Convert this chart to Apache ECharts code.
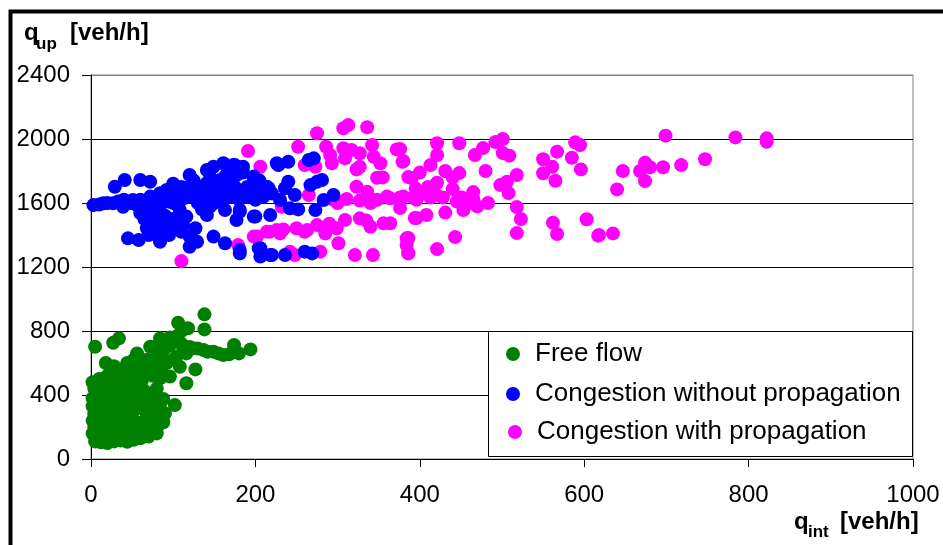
<!DOCTYPE html>
<html>
<head>
<meta charset="utf-8">
<script src="https://cdn.jsdelivr.net/npm/echarts@6/dist/echarts.min.js"></script>
</head>
<body style="margin:0;background:#fff">
<div id="main" style="width: 943px;height:545px;"></div>
<script type="text/javascript">
    // values: [q_int, q_up] in veh/h
    var freeFlow = [
        [138,904],[138,810],[106,852],[118,817],[5,702],[27,727],[34,754],[72,702],[84,754],[174,712],
        [194,685],[161,650],[149,671],[137,681],[124,692],[127,560],[104,765],[96,712],[88,681],[80,640],
        [72,608],[64,567],[56,660],[112,702],[116,660],[108,577],[96,515],[84,504],[116,473],[102,337],
        [100,740],[92,700],[110,720],[120,700],[130,690],[142,670],[155,660],[168,655],[180,660],[60,600],
        [68,620],[76,590],[50,560],[45,520],[40,480],[55,500],[65,540],[75,520],[85,560],[92,600],
        [100,620],[104,640],[88,620],[78,700],[96,760],[110,800],
        [5,110],[12,105],[20,100],[28,110],[36,115],[44,108],[52,120],[60,130],[70,140],[80,160],
        [8,130],[16,140],[24,125],[32,135],[40,140],[48,145],
        [2,160],[10,170],[18,180],[26,165],[34,175],[42,185],[50,170],[58,190],[66,180],[74,200],
        [82,210],[88,230],[4,200],[12,210],[20,220],[28,205],[36,230],[44,215],[52,240],[60,225],
        [68,245],[78,250],[2,240],[14,250],[24,260],
        [4,280],[10,300],[18,290],[26,310],[34,280],[42,300],[50,285],[58,320],[66,300],[74,330],
        [84,320],[90,285],[2,330],[12,340],[22,350],[30,330],[40,345],[48,360],[56,340],[64,370],
        [72,360],[80,350],[88,375],
        [2,380],[8,400],[16,390],[24,410],[32,380],[40,400],[48,420],[56,400],[64,430],[72,410],
        [80,440],[4,440],[14,460],[22,445],[30,470],[38,450],[46,480],[54,460],[62,490],[2,480],
        [10,500],[20,520],[30,540],[38,560],[28,580],[18,600],[44,600],[52,620]
    ];

    var congestionNoProp = [
        [3,1587],[15,1598],[27,1598],[39,1577],[51,1619],[29,1702],[41,1744],[60,1744],[72,1733],[60,1537],
        [45,1379],[58,1369],[68,1442],[84,1358],[80,1504],[72,1640],[84,1661],[92,1681],[96,1608],[104,1660],
        [108,1556],[120,1775],[120,1702],[116,1515],[127,1442],[112,1462],[120,1327],[129,1358],[141,1806],[149,1827],
        [161,1848],[173,1837],[185,1827],[129,1702],[141,1723],[157,1744],[169,1723],[198,1765],[214,1702],[133,1660],
        [149,1640],[165,1660],[185,1671],[206,1660],[141,1525],[163,1556],[177,1494],[181,1546],[198,1515],[218,1525],
        [149,1390],[163,1348],[181,1306],[206,1317],[206,1265],[220,1275],[226,1848],[230,1619],
        [175,1837],[163,1765],[177,1775],[198,1754],[206,1702],[216,1692],[198,1650],[181,1671],[163,1660],[181,1556],
        [200,1515],[228,1837],[240,1858],[265,1869],[271,1879],[240,1733],[236,1692],[248,1650],[267,1712],[275,1733],
        [281,1744],[295,1650],[283,1619],[273,1556],[242,1567],[252,1560],[181,1285],[218,1275],[236,1275],[260,1296],
        [269,1285],[204,1317],
        [10,1590],[20,1600],[33,1610],[45,1600],[55,1590],[65,1580],[75,1600],[85,1590],[60,1620],[70,1560],
        [80,1540],[90,1520],[75,1480],[85,1460],[95,1480],[100,1500],[65,1500],[50,1600],[40,1620],[100,1600],
        [110,1620],[120,1640],[130,1600],[140,1620],[150,1600],[160,1620],[170,1640],[180,1620],[190,1640],[200,1620],
        [210,1640],[135,1560],[145,1580],[155,1700],[175,1700],[190,1700],[140,1680],[110,1700],[100,1720],[125,1740],
        [145,1760],[165,1780],[185,1790],[205,1740],[220,1660],[90,1420],[100,1440],[80,1400],[70,1400],[95,1400],
        [110,1420],[120,1390]
    ];

    var congestionProp = [
        [421,1973],[448,1973],[421,1900],[376,1937],[380,1862],[413,1837],[431,1800],[448,1787],[386,1762],[390,1756],
        [421,1727],[440,1687],[465,1668],[465,1625],[376,1634],[392,1634],[413,1634],[428,1634],[451,1634],[376,1569],
        [396,1506],[408,1525],[431,1540],[453,1556],[386,1381],[384,1337],[386,1287],[421,1312],[443,1387],[467,1900],
        [477,1943],[492,1981],[501,2000],[501,1912],[509,1896],[480,1800],[498,1712],[506,1733],[518,1775],[508,1662],
        [518,1575],[523,1500],[518,1412],[550,1873],[561,1827],[550,1786],[565,1739],[567,1921],[585,1883],[589,1979],
        [595,1962],[596,1810],[562,1477],[567,1406],[603,1498],[617,1396],[699,2021],[784,2010],[822,2004],[822,1983],
        [747,1873],[718,1837],[696,1823],[674,1852],[668,1800],[680,1823],[674,1737],[647,1800],[640,1685],[618,1400],
        [635,1410],
        [191,1925],[206,1827],[252,1952],[275,2036],[307,2067],[313,2087],[336,2073],[286,1952],[291,1900],[293,1848],
        [307,1942],[317,1931],[309,1879],[327,1911],[342,1962],[344,1889],[352,1848],[327,1827],[323,1810],[372,1935],
        [379,1858],[348,1758],[260,1837],[273,1827],[265,1650],[232,1577],[323,1702],[336,1671],[295,1620],[311,1625],
        [327,1615],[348,1620],[364,1630],[380,1640],[396,1620],[202,1390],[218,1421],[234,1435],[250,1442],[263,1431],
        [275,1462],[299,1442],[309,1494],[327,1504],[340,1452],[356,1473],[364,1473],[301,1348],[321,1275],[343,1275],
        [384,1379],[386,1285],[179,1337],[242,1296],[248,1275],[279,1296],[394,1506],[110,1237],[198,1390],[214,1421],
        [226,1431],
        [300,1600],[340,1600],[360,1640],[405,1660],[420,1650],[445,1610],[460,1600],[395,1690],[410,1700],[230,1410],
        [260,1420],[285,1410],[290,1470],[335,1490],[355,1760],[400,1790],[440,1760],[470,1580],[483,1600]
    ];

    var seriesNames = ['Free flow', 'Congestion without propagation', 'Congestion with propagation'];
    var seriesColors = ['#008000', '#0000ff', '#ff00ff'];

    var font = '"Liberation Sans", Arial, sans-serif';

    var myChart = echarts.init(document.getElementById('main'));

    function legendFor(i, left, top) {
        return {
            data: [seriesNames[i]],
            left: left,
            top: top,
            z: 6,
            padding: 0,
            icon: 'circle',
            itemWidth: 34,
            itemHeight: 14,
            selectedMode: false,
            textStyle: { fontSize: 26, fontFamily: font, color: '#000' }
        };
    }

    function plain(v) { return String(v); }

    var option = {
        animation: false,
        backgroundColor: '#fff',
        grid: {
            left: 91, top: 75, right: 30, bottom: 86,
            show: true, borderColor: '#808080', borderWidth: 1, backgroundColor: '#fff'
        },
        xAxis: {
            type: 'value', min: 0, max: 1000, interval: 200,
            axisLine: { show: true, lineStyle: { color: '#000', width: 1 } },
            axisTick: { show: true, length: 8, lineStyle: { color: '#000' } },
            axisLabel: { fontSize: 24, fontFamily: font, color: '#000', margin: 24, formatter: plain },
            splitLine: { show: false }
        },
        yAxis: {
            type: 'value', min: 0, max: 2400, interval: 400,
            axisLine: { show: true, lineStyle: { color: '#000', width: 1 } },
            axisTick: { show: true, length: 9, lineStyle: { color: '#000' } },
            axisLabel: { fontSize: 24, fontFamily: font, color: '#000', margin: 21, formatter: plain },
            splitLine: { show: true, lineStyle: { color: ['#000', '#000', '#000', '#000', '#000', '#000', '#808080'], width: 1 } }
        },
        legend: [legendFor(0, 506, 341), legendFor(1, 506, 381), legendFor(2, 508, 419)],
        series: [{
            name: seriesNames[2], type: 'scatter', symbolSize: 14,
            itemStyle: { color: seriesColors[2], opacity: 1 }, data: congestionProp
        }, {
            name: seriesNames[1], type: 'scatter', symbolSize: 14,
            itemStyle: { color: seriesColors[1], opacity: 1 }, data: congestionNoProp
        }, {
            name: seriesNames[0], type: 'scatter', symbolSize: 14,
            itemStyle: { color: seriesColors[0], opacity: 1 }, data: freeFlow
        }],
        graphic: [
            // outer frame (left and top visible)
            { type: 'polyline', z: 100, shape: { points: [[10.5, 545], [10.5, 11.5], [943, 11.5]] },
              style: { stroke: '#000', lineWidth: 4, fill: null } },
            // legend box, above grid lines
            { type: 'rect', z: 5, shape: { x: 488.5, y: 331.5, width: 424, height: 125 },
              style: { stroke: '#000', lineWidth: 1, fill: '#fff' } },
            // y axis title
            { type: 'text', x: 24, y: 33, style: { text: 'q', font: 'bold 24px ' + font, fill: '#000', verticalAlign: 'middle' } },
            { type: 'text', x: 36, y: 44, style: { text: 'up', font: 'bold 17px ' + font, fill: '#000', verticalAlign: 'middle' } },
            { type: 'text', x: 70, y: 33, style: { text: '[veh/h]', font: 'bold 24px ' + font, fill: '#000', verticalAlign: 'middle' } },
            // x axis title
            { type: 'text', x: 794, y: 522, style: { text: 'q', font: 'bold 24px ' + font, fill: '#000', verticalAlign: 'middle' } },
            { type: 'text', x: 808, y: 532, style: { text: 'int', font: 'bold 17px ' + font, fill: '#000', verticalAlign: 'middle' } },
            { type: 'text', x: 840, y: 522, style: { text: '[veh/h]', font: 'bold 24px ' + font, fill: '#000', verticalAlign: 'middle' } }
        ]
    };
    myChart.setOption(option);
</script>
</body>
</html>
